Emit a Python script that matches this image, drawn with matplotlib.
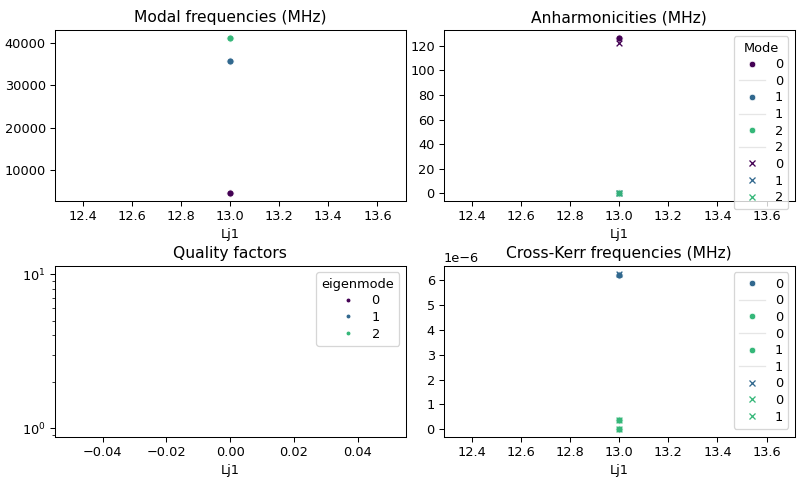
import numpy as np
import matplotlib
matplotlib.use('Agg')
import matplotlib.pyplot as plt
from matplotlib.lines import Line2D
from matplotlib.ticker import MultipleLocator

# sweep value (single point)
lj1 = [13.0]
modes = [0, 1, 2]

# modal frequencies (MHz) per mode
freqs = [4500, 35800, 41200]

# anharmonicities (MHz): two estimates per mode
anharm_o = [126.5, 0.0, 0.0]
anharm_x = [122.0, 0.0, 0.0]

# cross-Kerr (MHz): three pairs
kerr_labels = ['0', '0', '1']
kerr_o = [6.2e-6, 0.38e-6, 0.0]
kerr_x = [6.25e-6, 0.38e-6, 0.0]

mode_colors = plt.cm.viridis([0.0, 1 / 3, 2 / 3])
kerr_colors = [mode_colors[1], mode_colors[2], mode_colors[2]]
pale = '#e6e6e6'

DPI = 93


def dot(color, label, marker='o', ms=5):
    return Line2D([], [], ls='none', marker=marker, color=color,
                  markeredgecolor='w' if marker == 'o' else color,
                  markeredgewidth=0.5 if marker == 'o' else 1,
                  markersize=ms, label=label)


def main():
    fig, axs = plt.subplots(2, 2, figsize=(806 / DPI, 484 / DPI), dpi=DPI)
    fig.subplots_adjust(left=0.068, right=0.986, top=0.938, bottom=0.097,
                        wspace=0.109, hspace=0.38)

    # modal frequencies
    ax = axs[0, 0]
    for m in modes:
        ax.scatter(lj1, [freqs[m]], color=mode_colors[m], s=32,
                   edgecolors='w', linewidths=0.75, zorder=3)
    ax.set_title('Modal frequencies (MHz)')
    ax.set_xlabel('Lj1')

    # anharmonicities
    ax = axs[0, 1]
    handles = []
    for m in modes:
        ax.scatter(lj1, [anharm_o[m]], color=mode_colors[m], s=32,
                   edgecolors='w', linewidths=0.75, zorder=3)
    for m in modes:
        ax.scatter(lj1, [anharm_x[m]], color=mode_colors[m], marker='x',
                   s=20, linewidths=1, zorder=3)
    for m in modes:
        handles.append(dot(mode_colors[m], str(m)))
        handles.append(Line2D([], [], color=pale, lw=1, label=str(m)))
    for m in modes:
        handles.append(dot(mode_colors[m], str(m), marker='x', ms=4))
    ax.legend(handles=handles, title='Mode', loc='upper right',
              labelspacing=0.28)
    ax.yaxis.set_major_locator(MultipleLocator(20))
    ax.set_title('Anharmonicities (MHz)')
    ax.set_xlabel('Lj1')

    # quality factors (no finite data)
    ax = axs[1, 0]
    ax.set_yscale('log')
    ax.set_xlim(-0.055, 0.055)
    ax.set_ylim(0.874, 11.3)
    qh = [Line2D([], [], ls='none', marker='o', color=mode_colors[m],
                 markersize=2, label=str(m)) for m in modes]
    ax.legend(handles=qh, title='eigenmode', loc='upper right',
              labelspacing=0.28)
    ax.set_title('Quality factors')
    ax.set_xlabel('Lj1')

    # cross-Kerr
    ax = axs[1, 1]
    for i in range(len(kerr_o)):
        ax.scatter(lj1, [kerr_o[i]], color=kerr_colors[i], s=32,
                   edgecolors='w', linewidths=0.75, zorder=3)
    for i in range(len(kerr_x)):
        ax.scatter(lj1, [kerr_x[i]], color=kerr_colors[i], marker='x',
                   s=20, linewidths=1, zorder=3)
    handles = []
    for i, lab in enumerate(kerr_labels):
        handles.append(dot(kerr_colors[i], lab))
        handles.append(Line2D([], [], color=pale, lw=1, label=lab))
    for i, lab in enumerate(kerr_labels):
        handles.append(dot(kerr_colors[i], lab, marker='x', ms=4))
    ax.legend(handles=handles, loc='upper right', labelspacing=0.28)
    ax.yaxis.set_major_locator(MultipleLocator(1e-6))
    ax.set_title('Cross-Kerr frequencies (MHz)')
    ax.set_xlabel('Lj1')

    fig.savefig('out.png')


if __name__ == "__main__":
    main()
